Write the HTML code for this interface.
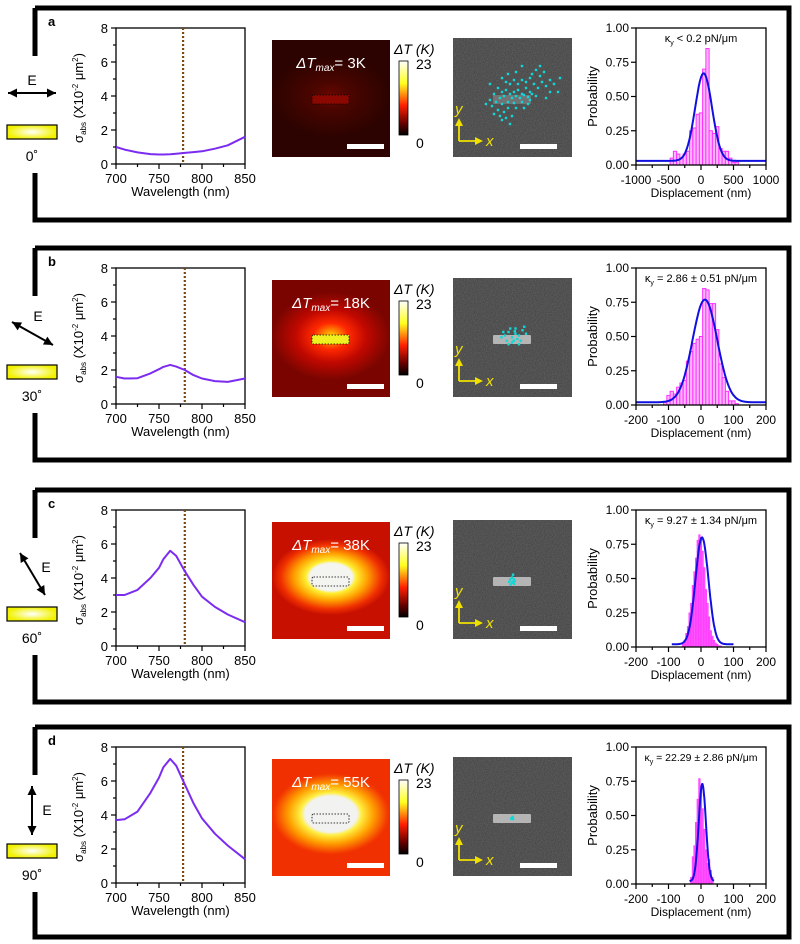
<!DOCTYPE html>
<html><head><meta charset="utf-8">
<style>
html,body{margin:0;padding:0;background:#fff;}
svg{display:block;font-family:"Liberation Sans",Arial,sans-serif;}
</style></head>
<body>
<svg id="fig" width="800" height="944" viewBox="0 0 800 944" xmlns="http://www.w3.org/2000/svg">
<defs>
  <linearGradient id="cbar" x1="0" y1="0" x2="0" y2="1">
    <stop offset="0" stop-color="#ffffff"/><stop offset="0.3" stop-color="#ffff20"/>
    <stop offset="0.6" stop-color="#ff2000"/><stop offset="0.85" stop-color="#600000"/><stop offset="1" stop-color="#000"/>
  </linearGradient>
  <radialGradient id="rodg" cx="0.5" cy="0.5" r="0.5">
    <stop offset="0" stop-color="#ffffff"/><stop offset="1" stop-color="#f2f200"/>
  </radialGradient>
  <radialGradient id="hmA" cx="0.5" cy="0.48" r="0.5" gradientTransform="translate(0.5,0.48) scale(1,0.7) translate(-0.5,-0.48)"><stop offset="0" stop-color="#6a0700"/><stop offset="0.35" stop-color="#4a0500"/><stop offset="1" stop-color="#2c0300"/></radialGradient>
  <radialGradient id="hmB" cx="0.5" cy="0.48" r="0.5" gradientTransform="translate(0.5,0.48) scale(1,0.75) translate(-0.5,-0.48)"><stop offset="0" stop-color="#ffd800"/><stop offset="0.3" stop-color="#ff2800"/><stop offset="0.6" stop-color="#c00800"/><stop offset="1" stop-color="#7a0500"/></radialGradient>
  <radialGradient id="hmC" cx="0.5" cy="0.47" r="0.5" gradientTransform="translate(0.5,0.47) scale(1,0.65) translate(-0.5,-0.47)"><stop offset="0" stop-color="#f4f4f0"/><stop offset="0.36" stop-color="#f4f4f0"/><stop offset="0.43" stop-color="#ffee30"/><stop offset="0.62" stop-color="#ffa000"/><stop offset="0.85" stop-color="#f03000"/><stop offset="1" stop-color="#c81000"/></radialGradient>
  <radialGradient id="hmD" cx="0.5" cy="0.47" r="0.5" gradientTransform="translate(0.5,0.47) scale(1,0.7) translate(-0.5,-0.47)"><stop offset="0" stop-color="#f2f2f0"/><stop offset="0.44" stop-color="#f2f2f0"/><stop offset="0.52" stop-color="#ffee40"/><stop offset="0.72" stop-color="#ffa000"/><stop offset="0.95" stop-color="#f43c00"/><stop offset="1" stop-color="#f03000"/></radialGradient>
  <filter id="noise" x="0" y="0" width="1" height="1">
    <feTurbulence type="fractalNoise" baseFrequency="0.9" numOctaves="1" seed="3" result="n"/>
    <feColorMatrix in="n" type="matrix" values="0 0 0 0 0.2  0 0 0 0 0.2  0 0 0 0 0.2  0.8 0 0 0 -0.25" result="c"/>
    <feComposite in="c" in2="SourceGraphic" operator="in"/>
  </filter>
  <clipPath id="semclip"><rect x="453" y="30" width="119" height="119"/></clipPath>
</defs>
</svg>
<script>
// ---- data ----
const panelLetters = ['a','b','c','d'];
const polAngles = ['0˚','30˚','60˚','90˚'];
const dTmax = ['3K','18K','38K','55K'];
const kappaText = ['κ<sub>y</sub> < 0.2 pN/μm','2.86 ± 0.51','9.27 ± 1.34','22.29 ± 2.86'];
const wavelengths = [700,710,725,740,750,755,763,770,780,790,800,815,830,850];
const sigmaA = [1.0,0.85,0.68,0.58,0.56,0.56,0.57,0.6,0.65,0.7,0.75,0.9,1.1,1.6];
const sigmaB = [1.6,1.5,1.52,1.8,2.05,2.18,2.3,2.2,2.0,1.7,1.5,1.35,1.3,1.5];
const sigmaC = [3.0,3.0,3.3,4.0,4.6,5.1,5.6,5.3,4.4,3.6,2.9,2.3,1.85,1.4];
const sigmaD = [3.7,3.75,4.2,5.3,6.2,6.8,7.3,6.9,5.8,4.7,3.8,2.9,2.2,1.4];
const laserWl = [778,780,780,778];
const histStart = [-450,-110,-55,-30];
const histWidth = [50,10,5,5];
const histA = [0.05,0.1,0.08,0.05,0.08,0.1,0.25,0.27,0.37,0.38,0.7,0.85,0.25,0.23,0.28,0.12,0.1,0.1,0.05,0.02,0.02];
const histB = [0.02,0.07,0.1,0.08,0.13,0.16,0.18,0.32,0.39,0.45,0.48,0.5,0.85,0.84,0.74,0.74,0.55,0.3,0.2,0.1,0.03,0.03,0.01];
const histC = [0.02,0.05,0.1,0.15,0.25,0.32,0.45,0.55,0.65,0.78,0.82,0.8,0.7,0.58,0.42,0.32,0.22,0.12,0.08,0.05,0.03,0.02,0.01,0.01];
const histD = [0.05,0.2,0.28,0.45,0.62,0.77,0.7,0.55,0.4,0.25,0.15,0.18,0.1,0.05];
const fitMu = [40,12,3,4];
const fitSigma = [130,38,20,11];
const fitAmp = [0.64,0.75,0.78,0.71];
const fitBase = [0.03,0.02,0.02,0.02];
const fitRange = [[-1000,1000],[-200,200],[-90,100],[-35,40]];
const histDomain = [[-1000,1000],[-200,200],[-200,200],[-200,200]];
const histTicks = [[-1000,-500,0,500,1000],[-200,-100,0,100,200],[-200,-100,0,100,200],[-200,-100,0,100,200]];
// trajectory positions (nm, relative to rod center)
const trajA = [[-60,-40],[-40,-20],[-20,-30],[0,-10],[20,-20],[40,-30],[60,-10],[80,-40],[100,-20],[-80,-10],[-50,10],[-30,0],[10,10],[30,0],[50,10],[70,-5],[90,5],[110,-10],[-70,30],[-40,40],[-10,30],[20,35],[60,30],[90,40],[-60,70],[-30,80],[-10,60],[-50,100],[-20,110],[10,100],[40,-60],[60,-80],[80,-70],[100,-90],[120,-60],[140,-40],[160,-70],[180,-50],[200,-80],[150,-100],[170,-120],[130,-130],[110,-110],[20,-80],[0,-60],[-20,-70],[-40,-90],[-10,-110],[30,-120],[60,-150],[150,-150],[200,-20],[220,-60],[240,-20],[250,-90],[-90,50],[-100,20],[-80,90],[70,60],[0,140],[-100,-60],[100,20],[130,0],[180,10],[30,60],[-120,40],[-40,120]];
const trajB = [[-20,-10],[-10,-20],[0,-5],[10,-15],[20,-10],[-15,5],[5,5],[15,0],[25,5],[-5,-30],[10,-30],[30,-25],[35,-35],[-25,-20],[0,10],[20,15],[-10,15],[40,-15],[-30,-5],[8,-22]];
const trajC = [[-5,-5],[0,-10],[5,-5],[0,5],[-8,2],[8,0],[3,-18],[-4,10],[6,8],[2,2]];
const trajD = [[0,0],[2,-3],[-2,2],[3,3]];

const NS='http://www.w3.org/2000/svg';
const svg=document.getElementById('fig');
function el(tag,attrs,parent){const e=document.createElementNS(NS,tag);for(const k in attrs)e.setAttribute(k,attrs[k]);(parent||svg).appendChild(e);return e;}
function txt(s,attrs,parent){const t=el('text',attrs,parent);t.innerHTML=s;return t;}

const panelTops=[8,248,490,727];
const panelH=[212,212,212,210];
const sigmaSets=[sigmaA,sigmaB,sigmaC,sigmaD];
const histSets=[histA,histB,histC,histD];
const hmFills=['url(#hmA)','url(#hmB)','url(#hmC)','url(#hmD)'];
const rodFills=['#8a0800','#f0f020','none','none'];
const trajSets=[trajA,trajB,trajC,trajD];

panelTops.forEach((T,i)=>{
  const g=el('g',{transform:`translate(0,${T})`});
  
  
  const H=panelH[i];
  const fr=el('path',{d:`M35,${0} H789 V${H} H35 V165 M35,0 V48`,fill:'none',stroke:'#000','stroke-width':5},g);
  
  
  const lb=txt(panelLetters[i],{x:48,y:18,'font-size':13,'font-weight':'bold'},g);
  
  

  // polarization icon
  const ig=el('g',{},g);
  
  
  const arrows=[[8,85,56,85,32,72],[12,74,53,97,38,68],[20,63,45,105,46,77],[32,59,32,108,47,83]];
  const a=arrows[i];
  const ang=Math.atan2(a[3]-a[1],a[2]-a[0]);
  el('line',{x1:a[0],y1:a[1],x2:a[2],y2:a[3],stroke:'#000','stroke-width':2},ig);
  [[a[2],a[3],ang],[a[0],a[1],ang+Math.PI]].forEach(([x,y,t])=>{
    const L=9,W=4.5;
    const p=[[x,y],[x-L*Math.cos(t)+W*Math.sin(t),y-L*Math.sin(t)-W*Math.cos(t)],[x-L*Math.cos(t)-W*Math.sin(t),y-L*Math.sin(t)+W*Math.cos(t)]];
    el('polygon',{points:p.map(q=>q.join(',')).join(' '),fill:'#000'},ig);
  });
  txt('E',{x:a[4],y:a[5]+5,'font-size':14,'text-anchor':'middle'},ig);
  el('rect',{x:7,y:117,width:50,height:14,fill:'url(#rodg)',stroke:'#000','stroke-width':1.2},ig);
  txt(polAngles[i],{x:32,y:153,'font-size':14,'text-anchor':'middle'},ig);

  // ---- absorption plot ----
  const pg=el('g',{},g);
  
  
  const X0=116,X1=245,Y0=156,Y1=20;
  const xs=v=>X0+(v-700)/150*(X1-X0);
  const ys=v=>Y0-(v/8)*(Y0-Y1);
  el('rect',{x:X0,y:Y1,width:X1-X0,height:Y0-Y1,fill:'none',stroke:'#000','stroke-width':1.3},pg);
  for(let v=0;v<=8;v++){const y=ys(v);el('line',{x1:X0,x2:X0-(v%2?3:5),y1:y,y2:y,stroke:'#000','stroke-width':1.2},pg);
    if(v%2==0)txt(v,{x:X0-8,y:y+5,'font-size':13,'text-anchor':'end'},pg);}
  for(let v=700;v<=850;v+=25){const x=xs(v);el('line',{x1:x,x2:x,y1:Y0,y2:Y0+(v%50?3:5),stroke:'#000','stroke-width':1.2},pg);
    if(v%50==0)txt(v,{x:x,y:Y0+19,'font-size':13,'text-anchor':'middle'},pg);}
  txt('Wavelength (nm)',{x:(X0+X1)/2,y:Y0+32,'font-size':13,'text-anchor':'middle'},pg);
  txt('σ<tspan font-size="8" dy="3">abs</tspan><tspan dy="-3"> (X10</tspan><tspan font-size="8" dy="-5">-2</tspan><tspan dy="5"> μm</tspan><tspan font-size="8" dy="-5">2</tspan><tspan dy="5">)</tspan>',
    {x:0,y:0,'font-size':13,'text-anchor':'middle',transform:`translate(83,${(Y0+Y1)/2+2}) rotate(-90)`},pg);
  const dl=el('line',{x1:xs(laserWl[i]),x2:xs(laserWl[i]),y1:Y1,y2:Y0,stroke:'#7a4a10','stroke-width':2.2,'stroke-dasharray':'2,2'},pg);
  
  
  const sd=sigmaSets[i];
  let d='';
  wavelengths.forEach((w,k)=>{d+=(k?'L':'M')+xs(w).toFixed(1)+','+ys(sd[k]).toFixed(1);});
  const cv=el('path',{d:d,fill:'none',stroke:'#7b2cf0','stroke-width':2,'stroke-linejoin':'round'},pg);
  
  

  // ---- heatmap ----
  const hg=el('g',{},g);
  
  
  el('rect',{x:272,y:32,width:118,height:117,fill:hmFills[i]},hg);
  if(rodFills[i]!=='none')el('rect',{x:312,y:87,width:37,height:9,fill:rodFills[i]},hg);
  el('rect',{x:312,y:87,width:37,height:9,fill:'none',stroke:'#000','stroke-width':0.8,'stroke-dasharray':'1.5,1.5',rx:1.5},hg);
  txt('<tspan font-style="italic">ΔT</tspan><tspan font-style="italic" font-size="10" dy="3">max</tspan><tspan dy="-3">= '+dTmax[i]+'</tspan>',{x:331,y:60,'font-size':15,fill:'#fff','text-anchor':'middle'},hg);
  el('rect',{x:347,y:136,width:37,height:5,fill:'#fff'},hg);
  const cb=el('g',{},g);
  
  
  el('rect',{x:399,y:53,width:9,height:74,fill:'url(#cbar)',stroke:'#000','stroke-width':0.8},cb);
  txt('ΔT (K)',{x:394,y:46,'font-size':14,'font-style':'italic'},cb);
  txt('23',{x:416,y:61,'font-size':14},cb);
  txt('0',{x:416,y:140,'font-size':14},cb);

  // ---- SEM image ----
  const sg=el('g',{'clip-path':'url(#semclip)'},g);
  
  
  el('rect',{x:453,y:30,width:119,height:119,fill:'#4a4a4a'},sg);
  el('rect',{x:453,y:30,width:119,height:119,fill:'#fff',filter:'url(#noise)'},sg);
  el('rect',{x:493,y:87,width:38,height:9,fill:i==0?'#777':'#c0c0c0',opacity:0.9,rx:1},sg);
  const cx=i==0?510:512,cy=i==0?88:91,sc=i==0?0.2:0.35;
  trajSets[i].forEach(p=>{const dot=el('rect',{x:cx+p[0]*sc-1.2,y:cy+p[1]*sc-1.2,width:2.4,height:2.4,fill:'#10d8d8'},sg);});
  el('path',{d:'M459,133 H476 M459,133 V117',stroke:'#f0e000','stroke-width':1.8,fill:'none'},sg);
  el('polygon',{points:'483,133 475,129 475,137',fill:'#f0e000'},sg);
  el('polygon',{points:'459,110 455,118 463,118',fill:'#f0e000'},sg);
  txt('y',{x:455,y:106,'font-size':15,'font-style':'italic',fill:'#f0e000'},sg);
  txt('x',{x:486,y:138,'font-size':15,'font-style':'italic',fill:'#f0e000'},sg);
  el('rect',{x:520,y:136,width:37,height:5,fill:'#fff'},sg);

  // ---- histogram ----
  const qg=el('g',{},g);
  
  
  const H0=636,H1=766,V0=157,V1=20;
  const dom=histDomain[i];
  const hx=v=>H0+(v-dom[0])/(dom[1]-dom[0])*(H1-H0);
  const hy=v=>V0-v*(V0-V1);
  histSets[i].forEach((v,k)=>{
    const x0=histStart[i]+k*histWidth[i];
    const b=el('rect',{x:hx(x0-histWidth[i]/2),y:hy(v),width:hx(x0+histWidth[i]/2)-hx(x0-histWidth[i]/2),height:V0-hy(v),fill:i<2?'#ffb8ff':'#ff55ff',stroke:'#ff30ff','stroke-width':i<2?1:0.5},qg);
    
    
  });
  let fd='';const fr2=fitRange[i];
  for(let k=0;k<=120;k++){const v=fr2[0]+(fr2[1]-fr2[0])*k/120;const p=fitBase[i]+fitAmp[i]*Math.exp(-0.5*Math.pow((v-fitMu[i])/fitSigma[i],2));fd+=(k?'L':'M')+hx(v).toFixed(1)+','+hy(p).toFixed(1);}
  const fc=el('path',{d:fd,fill:'none',stroke:'#1010e0','stroke-width':2},qg);
  
  
  el('rect',{x:H0,y:V1,width:H1-H0,height:V0-V1,fill:'none',stroke:'#000','stroke-width':1.3},qg);
  for(let k=0;k<=4;k++){const v=k*0.25,y=hy(v);el('line',{x1:H0,x2:H0-5,y1:y,y2:y,stroke:'#000','stroke-width':1.2},qg);
    txt(v.toFixed(2),{x:H0-7,y:y+4,'font-size':12,'text-anchor':'end'},qg);}
  const tk=histTicks[i];const step=(tk[1]-tk[0])/2;
  for(let v=tk[0];v<=tk[tk.length-1];v+=step){const x=hx(v);const maj=tk.includes(v);el('line',{x1:x,x2:x,y1:V0,y2:V0+(maj?5:3),stroke:'#000','stroke-width':1.2},qg);
    if(maj)txt(v,{x:x,y:V0+19,'font-size':12,'text-anchor':'middle'},qg);}
  txt('Displacement (nm)',{x:(H0+H1)/2,y:V0+32,'font-size':12,'text-anchor':'middle'},qg);
  txt('Probability',{x:0,y:0,'font-size':13,'text-anchor':'middle',transform:`translate(597,${(V0+V1)/2}) rotate(-90)`},qg);
  const ann=i==0?'κ<tspan font-size="7" dy="3">y</tspan><tspan dy="-3"> &lt; 0.2 pN/μm</tspan>':'κ<tspan font-size="7" dy="3">y</tspan><tspan dy="-3"> = '+kappaText[i]+' pN/μm</tspan>';
  const at=txt(ann,{x:(H0+H1)/2,y:V1+14,'font-size':i==3?10.5:11,'text-anchor':'middle'},qg);
  
  
});
</script>
</body></html>
